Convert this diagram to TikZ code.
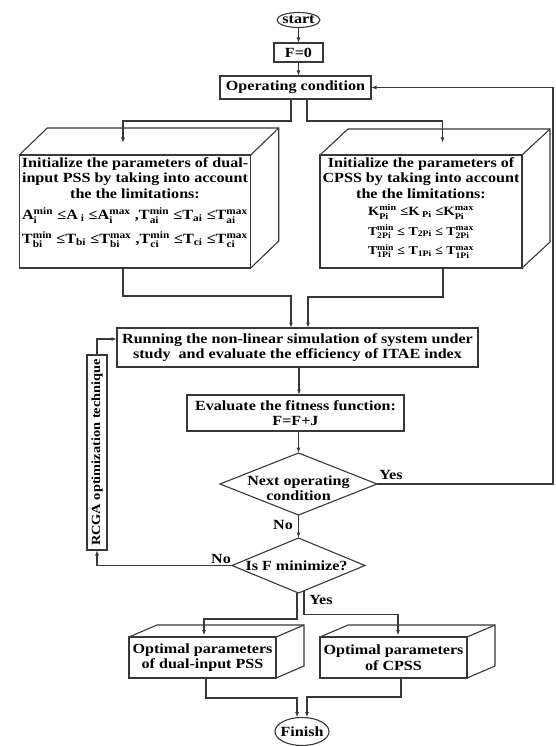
\documentclass[tikz,border=0pt]{standalone}
\usepackage{fontspec}
\usepackage{amsmath}
\usepackage{graphicx}
\setmainfont{Liberation Serif}[FakeStretch=1.15]
\usetikzlibrary{shapes.geometric,arrows.meta}
\newcommand\sx[2]{\ensuremath{^{\text{#1}}_{\text{#2}}}}
\newcommand\sbx[1]{\ensuremath{_{\text{#1}}}}
\newcommand\mline[2]{\resizebox{#1}{!}{\fontsize{10}{12}\selectfont\bfseries #2}}
\begin{document}
\begin{tikzpicture}[x=1pt,y=-1pt,
  every node/.style={font=\fontsize{14}{15.5}\selectfont\bfseries, text=black},
  ln/.style={draw=black!78, line width=1.1pt},
  arr/.style={ln, -{Latex[length=5.5pt,width=4pt]}},
  blk/.style={ln, rectangle, inner sep=0pt, outer sep=0pt, align=center},
  dia/.style={ln, diamond, inner sep=0pt, outer sep=0pt},
  ell/.style={ln, ellipse, inner sep=-4pt, outer sep=0pt},
  txt/.style={align=center, inner sep=0pt},
]
\useasboundingbox (0,0) rectangle (555,746);

% terminals and boxes
\node[ell, minimum width=43pt, minimum height=15pt] (st) at (298.5,20) {start};
\node[blk, minimum width=49pt, minimum height=19pt] (f0) at (298.5,52.5) {F=0};
\node[blk, minimum width=151pt, minimum height=23pt] (op) at (295.5,87.5) {Operating condition};

\node[blk, minimum width=231.5pt, minimum height=113pt] (lf) at (135,211.5) {};
\node[blk, minimum width=202pt, minimum height=113pt] (rf) at (421,211.5) {};

\node[blk, minimum width=361pt, minimum height=39pt] (run) at (297.5,347.5)
  {Running the non-linear simulation of system under\\study\ \ and evaluate the efficiency of ITAE index};
\node[blk, minimum width=217pt, minimum height=36pt] (ev) at (295.5,413)
  {Evaluate the fitness function:\\F=F+J};
\node[dia, minimum width=157pt, minimum height=62pt] (nx) at (298.5,484) {};
\node[txt] (nxt) at ([yshift=-4pt]nx.center) {Next operating\\condition};
\node[dia, minimum width=133pt, minimum height=55pt] (isf) at (298.5,565.5) {};
\node[txt] (isft) at ([xshift=-2pt]isf.center) {Is F minimize?};
\node[blk, rotate=90, minimum width=195pt, minimum height=20pt,
  font=\fontsize{12.5}{14}\selectfont\bfseries] (rc) at (97,452.5) {RCGA optimization technique};

\node[blk, minimum width=147pt, minimum height=41pt] (bl) at (202.5,657.5) {Optimal parameters\\of dual-input PSS};
\node[blk, minimum width=147pt, minimum height=41pt] (br) at (393.5,657.5) {Optimal parameters\\of CPSS};
\node[ell, minimum width=54pt, minimum height=28pt] (fin) at (302,731.5) {Finish};

% 3D faces
\foreach \n/\dx/\dy in {lf/28/27, rf/28/26, bl/28/12, br/28/12} {
  \draw[ln, line join=miter] (\n.north west) -- ++(\dx,-\dy)
    -- ([shift={(\dx,-\dy)}]\n.north east) -- ([shift={(\dx,-\dy)}]\n.south east) -- (\n.south east);
  \draw[ln] (\n.north east) -- ++(\dx,-\dy);
}

% 3D box texts
\node[txt, anchor=north] (lft) at ([yshift=-2pt]lf.north)
  {Initialize the parameters of dual-\\input PSS by taking into account\\the the limitations:\\[6pt]
   \mline{226pt}{A\sx{min}{i} ≤A\sbx{ i} ≤A\sx{max}{i} ,T\sx{min}{ai} ≤T\sbx{ai} ≤T\sx{max}{ai}}\\[7pt]
   \mline{226pt}{T\sx{min}{bi} ≤T\sbx{bi} ≤T\sx{max}{bi} ,T\sx{min}{ci} ≤T\sbx{ci} ≤T\sx{max}{ci}}};
\node[txt, anchor=north] (rft) at ([yshift=-2pt]rf.north)
  {Initialize the parameters of\\CPSS by taking into account\\the the limitations:\\[2pt]
   \mline{106pt}{K\sx{min}{Pi} ≤K\sbx{ Pi} ≤K\sx{max}{Pi}}\\[4pt]
   \mline{106pt}{T\sx{min}{2Pi} ≤ T\sbx{2Pi} ≤ T\sx{max}{2Pi}}\\[4pt]
   \mline{106pt}{T\sx{min}{1Pi} ≤ T\sbx{1Pi} ≤ T\sx{max}{1Pi}}};

% connectors
\draw[arr] (st.south) -- (f0.north);
\draw[arr] (f0.south) -- (f0.south |- op.north);
\draw[arr] ([xshift=-4.5pt]op.south) -- ++(0,22) -| ([xshift=-12pt,yshift=12pt]lf.north);
\draw[arr] ([xshift=11.5pt]op.south) -- ++(0,22) -| ([xshift=21.5pt,yshift=12pt]rf.north);
\draw[arr] ([xshift=-12pt]lf.south) -- ++(0,28) -| ([xshift=-6.5pt]run.north);
\draw[arr] ([xshift=22pt]rf.south) -- ++(0,29) -| ([xshift=10.5pt]run.north);
\draw[arr] ([xshift=1.5pt]run.south) -- ([xshift=3.5pt]ev.north);
\draw[arr] ([xshift=3pt]ev.south) -- (nx.north);
\draw[arr] (nx.south) -- (isf.north);
\coordinate (rt) at (553,484);
\draw[arr] (nx.east) -- (rt) |- (op.east);
\draw[arr] (isf.west) -| (rc.west);
\draw[arr] (rc.east) |- ([yshift=8.5pt]run.west);
\draw[arr] ([xshift=-1.5pt]isf.south) -- ++(0,26) -| ([xshift=1.5pt,yshift=1.5pt]bl.north);
\draw[arr] ([xshift=5.5pt,yshift=2.3pt]isf.south) -- ++(0,23.7) -| ([xshift=4.5pt,yshift=1.5pt]br.north);
\draw[arr] ([xshift=3.5pt]bl.south) -- ++(0,20) -| ([xshift=-5pt]fin.north);
\draw[arr] ([xshift=7.5pt]br.south) -- ++(0,19) -| ([xshift=5pt]fin.north);

% branch labels
\node[txt] (yes1) at (391,475) {Yes};
\node[txt] (no1) at (283,525) {No};
\node[txt] (no2) at (221,559) {No};
\node[txt] (yes2) at (321,600) {Yes};
\end{tikzpicture}
\end{document}
